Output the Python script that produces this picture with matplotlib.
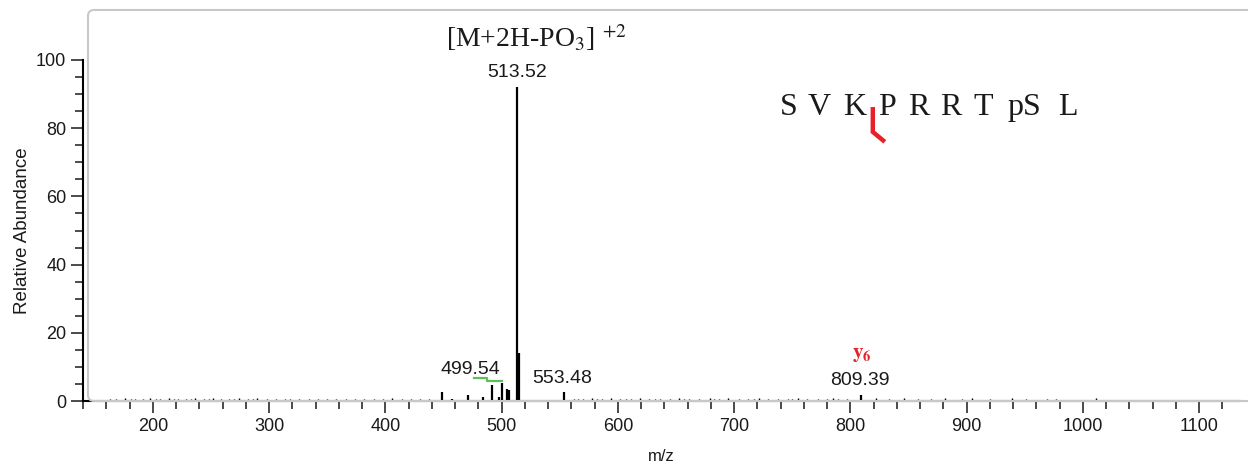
import matplotlib

matplotlib.use("Agg")
import matplotlib.pyplot as plt
from matplotlib.patches import FancyBboxPatch
from matplotlib.ticker import MultipleLocator
from matplotlib.transforms import IdentityTransform

# m/z and relative abundance of the labelled / visible peaks
peak_mz = [448.4, 457.3, 470.7, 484.1, 492.2, 497.4, 500.4, 505.0, 506.7,
           513.52, 515.0, 553.48, 809.39]
peak_int = [2.5, 0.6, 1.8, 1.1, 4.7, 1.2, 5.4, 3.4, 3.2,
            92.0, 14.0, 2.7, 1.8]

# low level noise along the baseline
noise_mz = [163, 168, 176, 181, 185, 192, 198, 203, 206, 214, 218, 222, 229,
            233, 236, 244, 248, 252, 259, 266, 270, 274, 282, 286, 290, 298,
            306, 314, 318, 326, 334, 342, 350, 358, 366, 374, 382, 390, 398,
            406, 414, 422, 430, 438, 562, 566, 570, 578, 582, 586, 594, 602,
            607, 611, 619, 627, 632, 636, 645, 653, 657, 661, 670, 679, 683,
            687, 695, 704, 712, 717, 721, 729, 738, 746, 750, 755, 763, 772,
            780, 785, 789, 797, 822, 833, 846, 858, 869, 881, 896, 905, 920,
            939, 951, 969, 977, 1011]
noise_int = [0.6, 0.7, 0.8, 0.6, 0.7, 0.6, 0.8, 0.6, 0.7, 0.8, 0.6, 0.7, 0.6,
             0.7, 0.8, 0.6, 0.7, 0.8, 0.6, 0.7, 0.6, 0.8, 0.6, 0.7, 0.8, 0.6,
             0.7, 0.6, 0.6, 0.7, 0.6, 0.6, 0.7, 0.6, 0.6, 0.6, 0.7, 0.6, 0.6,
             1.0, 0.6, 0.6, 0.6, 0.7, 0.6, 0.7, 0.6, 0.8, 0.6, 0.7, 0.8, 0.6,
             0.7, 0.6, 0.8, 0.7, 0.6, 0.7, 0.6, 0.8, 0.7, 0.6, 0.7, 0.8, 0.6,
             0.7, 0.8, 0.6, 0.7, 0.6, 0.8, 0.7, 0.6, 0.7, 0.6, 0.8, 0.7, 0.6,
             0.7, 0.8, 0.6, 0.7, 0.8, 0.7, 0.8, 0.6, 0.7, 0.8, 0.7, 0.8, 0.7,
             0.8, 0.7, 0.6, 0.7, 0.8]

# labels: (text, m/z, y)
mass_labels = [("513.52", 513.5, 96.2), ("499.54", 473.6, 9.1),
               ("553.48", 552.5, 6.7), ("809.39", 808.2, 5.9)]

# peptide sequence, one residue per slot
residues = ["S", "V", "K", "P", "R", "R", "T", "pS", "L"]
residue_px = [780, 808, 843, 878, 908, 940, 973, 1007, 1058]

SERIF = ["Liberation Serif", "DejaVu Serif"]
SANS = ["Liberation Sans", "DejaVu Sans"]
RED = "#e8202a"
GREEN = "#5cbf5c"
TXT = "#1a1a1a"

plt.rcParams.update({
    "font.family": SANS,
    "mathtext.fontset": "stix",
    "xtick.labelsize": 13,
    "ytick.labelsize": 13,
})

fig = plt.figure(figsize=(12.48, 4.65), dpi=100)
ax = fig.add_axes([0.0665, 0.1376, 0.927, 0.7334])

# grey rounded frame of the spectrum window
frame = FancyBboxPatch((88, 465 - 401), 1220, 391,
                       boxstyle="round,pad=0,rounding_size=6",
                       transform=IdentityTransform(), fill=False,
                       edgecolor="#c8c8c8", lw=1.5, zorder=0)
fig.patches.append(frame)

ax.vlines(noise_mz, 0, noise_int, color="black", lw=1.0, zorder=3)
ax.vlines(peak_mz, 0, peak_int, color="black", lw=1.6, zorder=3)

ax.set_xlim(140, 1135)
ax.set_ylim(0, 100)
ax.patch.set_alpha(0)
for s in ("top", "right"):
    ax.spines[s].set_visible(False)
for s in ("left", "bottom"):
    ax.spines[s].set_linewidth(1.5)

ax.xaxis.set_major_locator(MultipleLocator(100))
ax.xaxis.set_minor_locator(MultipleLocator(20))
ax.yaxis.set_major_locator(MultipleLocator(20))
ax.yaxis.set_minor_locator(MultipleLocator(5))
ax.tick_params(which="major", length=8.5, width=1.1, colors=TXT)
ax.tick_params(which="minor", length=5.5, width=1.1, colors=TXT)
ax.tick_params(axis="x", which="major", labelsize=13, pad=4)

ax.set_xlabel("m/z", fontsize=12, color=TXT, labelpad=10)
ax.set_ylabel("Relative Abundance", fontsize=13.5, color=TXT, labelpad=4)

for txt, x, y in mass_labels:
    ax.text(x, y, txt, ha="center", va="center", fontsize=14, color=TXT,
            clip_on=False)

# green bracket under 499.54
ax.plot([476.2, 487.1, 487.1, 500.7], [6.7, 6.7, 6.0, 6.0],
        color=GREEN, lw=1.6)

ax.text(452, 106.5, r"[M+2H-PO$_3$] $^{+2}$", ha="left", va="center",
        fontsize=20, family=SERIF, color=TXT, clip_on=False)
ax.text(809.8, 13.5, r"$\mathbf{y_6}$", ha="center", va="center",
        fontsize=15, color=RED)

# sequence, placed residue by residue (pixel x -> data x)
to_data = ax.transData.inverted()
fig_h = fig.get_size_inches()[1] * fig.dpi
for res, px in zip(residues, residue_px):
    xd, _ = to_data.transform((px, fig_h - 107))
    ax.text(xd, 86.2, res, ha="left", va="center", fontsize=23,
            family=SERIF, color=TXT)
ax.plot([819.3, 819.3, 829.6], [86.2, 78.9, 76.0], color=RED, lw=3.2,
        solid_capstyle="butt", solid_joinstyle="miter")

fig.savefig("out.png", dpi=100)
